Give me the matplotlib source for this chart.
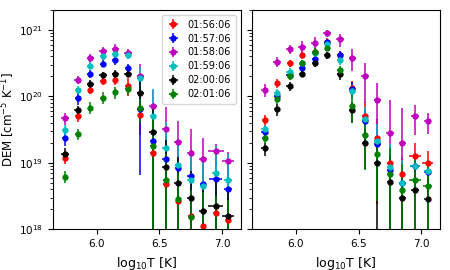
import matplotlib
matplotlib.use('Agg')
import matplotlib.pyplot as plt
import numpy as np

# log10 T bin centres (shared by both panels)
logt = [5.75, 5.85, 5.95, 6.05, 6.15, 6.25, 6.35, 6.45, 6.55, 6.65, 6.75, 6.85, 6.95, 7.05]

times = ['01:56:06', '01:57:06', '01:58:06', '01:59:06', '02:00:06', '02:01:06']
colors = ['r', 'b', 'm', 'c', 'k', 'g']

# left panel DEM values (rows follow times)
dem_left = [
    [1.18e19, 5.1e19, 1.26e20, 1.73e20, 1.74e20, 1.45e20, 5.2e19, 1.4e19, 4.75e18, 2.7e18, 1.6e18, 1.12e18, 1.78e18, 1.4e18],
    [2.35e19, 9.4e19, 2.2e20, 3.1e20, 3.5e20, 2.7e20, 6.5e19, 2.1e19, 1.14e19, 8.3e18, 6.3e18, 4.8e18, 5.8e18, 4.1e18],
    [4.7e19, 1.78e20, 3.76e20, 4.8e20, 5.1e20, 4.5e20, 2.05e20, 7.2e19, 3.2e19, 2.05e19, 1.42e19, 1.15e19, 1.5e19, 1.07e19],
    [3.1e19, 1.26e20, 2.9e20, 4.0e20, 4.4e20, 4.2e20, 1.86e20, 5.1e19, 1.66e19, 9.2e18, 5.6e18, 4.4e18, 7.1e18, 5.5e18],
    [1.38e19, 6.3e19, 1.55e20, 2.1e20, 2.2e20, 2.2e20, 1.12e20, 2.9e19, 8.8e18, 4.9e18, 3.0e18, 1.9e18, 2.2e18, 1.58e18],
    [6.2e18, 2.7e19, 6.8e19, 9.6e19, 1.15e20, 1.3e20, 6.6e19, 1.8e19, 5.5e18, 2.85e18, 1.55e18, 9e17, 8e17, 7e17],
]
# relative DEM errors, left panel
err_left = [
    [0.2, 0.2, 0.15, 0.15, 0.15, 0.3, 0.5, 1.2, 1.5, 1.5, 2.0, 2.0, 2.0, 2.0],
    [0.25, 0.2, 0.15, 0.12, 0.15, 0.15, 0.9, 1.5, 1.5, 1.5, 1.5, 1.5, 1.5, 1.5],
    [0.2, 0.15, 0.15, 0.15, 0.2, 0.15, 0.5, 0.75, 1.2, 1.05, 1.25, 1.05, 0.3, 0.35],
    [0.2, 0.15, 0.12, 0.12, 0.12, 0.12, 0.5, 1.5, 1.5, 1.5, 1.5, 1.5, 1.5, 1.5],
    [0.2, 0.15, 0.12, 0.12, 0.12, 0.12, 0.5, 1.2, 1.5, 1.5, 1.5, 1.5, 1.5, 1.5],
    [0.2, 0.18, 0.2, 0.2, 0.2, 0.2, 0.4, 1.5, 1.5, 1.5, 1.5, 3.0, 3.0, 3.0],
]
# temperature half-widths, left panel
xerr_left = [
    [0.02, 0.02, 0.02, 0.02, 0.02, 0.02, 0.02, 0.02, 0.02, 0.02, 0.02, 0.02, 0.025, 0.025],
    [0.025, 0.025, 0.025, 0.025, 0.025, 0.025, 0.025, 0.025, 0.025, 0.025, 0.025, 0.025, 0.05, 0.03],
    [0.03, 0.03, 0.03, 0.03, 0.03, 0.03, 0.03, 0.03, 0.03, 0.03, 0.03, 0.03, 0.063, 0.05],
    [0.025, 0.025, 0.025, 0.025, 0.025, 0.025, 0.025, 0.025, 0.025, 0.025, 0.025, 0.025, 0.03, 0.03],
    [0.03, 0.03, 0.03, 0.03, 0.03, 0.03, 0.03, 0.03, 0.03, 0.03, 0.03, 0.03, 0.06, 0.05],
    [0.02, 0.02, 0.02, 0.02, 0.02, 0.02, 0.02, 0.02, 0.02, 0.02, 0.02, 0.02, 0.02, 0.02],
]

# right panel
dem_right = [
    [4.4e19, 1.58e20, 3.2e20, 4.2e20, 4.6e20, 6.7e20, 4.2e20, 1.35e20, 5.1e19, 2.4e19, 1.0e19, 6.9e18, 1.28e19, 1.0e19],
    [2.95e19, 1.0e20, 2.1e20, 2.65e20, 3.6e20, 6.5e20, 4.2e20, 1.3e20, 4.3e19, 1.95e19, 7.8e18, 4.9e18, 9.0e18, 7.2e18],
    [1.26e20, 3.3e20, 5.2e20, 5.5e20, 6.3e20, 8.9e20, 7.2e20, 3.76e20, 2.0e20, 8.9e19, 2.8e19, 2.0e19, 5.0e19, 4.2e19],
    [3.25e19, 1.14e20, 2.35e20, 3.2e20, 4.5e20, 6.2e20, 3.5e20, 1.2e20, 4.6e19, 2.1e19, 8.8e18, 5.0e18, 9.1e18, 7.4e18],
    [1.65e19, 6.4e19, 1.44e20, 2.2e20, 3.2e20, 4.2e20, 2.2e20, 6.2e19, 2.0e19, 1.0e19, 5.2e18, 3.0e18, 3.9e18, 2.9e18],
    [2.4e19, 9.1e19, 2.03e20, 3.15e20, 4.7e20, 5.4e20, 2.5e20, 7.2e19, 2.6e19, 1.35e19, 6.8e18, 3.9e18, 5.5e18, 4.4e18],
]
err_right = [
    [0.2, 0.15, 0.12, 0.12, 0.12, 0.12, 0.15, 0.25, 0.6, 0.9, 0.8, 0.8, 0.55, 0.5],
    [0.2, 0.15, 0.12, 0.12, 0.12, 0.12, 0.15, 0.25, 0.5, 0.8, 1.0, 1.0, 0.5, 0.5],
    [0.22, 0.17, 0.15, 0.22, 0.25, 0.12, 0.22, 0.36, 0.6, 0.8, 2.2, 2.3, 0.48, 0.35],
    [0.15, 0.12, 0.12, 0.12, 0.12, 0.12, 0.15, 0.25, 0.5, 0.8, 1.2, 1.2, 0.5, 0.5],
    [0.22, 0.2, 0.15, 0.12, 0.12, 0.12, 0.2, 0.35, 0.6, 0.9, 1.5, 1.5, 1.5, 1.5],
    [0.2, 0.15, 0.12, 0.12, 0.12, 0.12, 0.15, 0.45, 0.7, 0.8, 1.5, 1.5, 1.5, 1.5],
]
xerr_right = [
    [0.02, 0.02, 0.02, 0.02, 0.02, 0.02, 0.02, 0.02, 0.02, 0.02, 0.02, 0.02, 0.045, 0.044],
    [0.025, 0.025, 0.025, 0.025, 0.025, 0.025, 0.025, 0.025, 0.025, 0.025, 0.025, 0.025, 0.04, 0.03],
    [0.03, 0.03, 0.03, 0.03, 0.03, 0.03, 0.03, 0.03, 0.03, 0.03, 0.03, 0.03, 0.03, 0.03],
    [0.025, 0.025, 0.025, 0.025, 0.025, 0.025, 0.025, 0.025, 0.025, 0.025, 0.025, 0.025, 0.04, 0.03],
    [0.025, 0.025, 0.025, 0.025, 0.025, 0.025, 0.025, 0.025, 0.025, 0.025, 0.025, 0.025, 0.032, 0.03],
    [0.02, 0.02, 0.02, 0.02, 0.02, 0.02, 0.02, 0.02, 0.02, 0.02, 0.02, 0.02, 0.05, 0.035],
]

fig = plt.figure(figsize=(4.5, 2.7), dpi=100)
ax1 = fig.add_axes([0.117, 0.151, 0.418, 0.812])
ax2 = fig.add_axes([0.56, 0.151, 0.418, 0.812], sharey=ax1)


def draw_panel(ax, dem, err, xerr, legend=False):
    for i in range(len(times)):
        y = np.array(dem[i])
        ax.errorbar(logt, y, yerr=y * np.array(err[i]), xerr=xerr[i], fmt='o',
                    color=colors[i], ms=3.5, elinewidth=1.1, capsize=0, label=times[i])
    ax.set_yscale('log')
    ax.set_xlim(5.65, 7.15)
    ax.set_ylim(1e18, 2e21)
    ax.set_xticks([6.0, 6.5, 7.0])
    ax.tick_params(labelsize=7.5)
    ax.set_xlabel(r'log$_{10}$T [K]', fontsize=9)
    if legend:
        ax.legend(loc=1, fontsize=7, handlelength=1.3, labelspacing=0.4, borderpad=0.5)


draw_panel(ax1, dem_left, err_left, xerr_left, legend=True)
ax1.set_ylabel(r'DEM [cm$^{-5}$ K$^{-1}$]', fontsize=8.5, labelpad=1)
draw_panel(ax2, dem_right, err_right, xerr_right)
plt.setp(ax2.get_yticklabels(), visible=False)

plt.savefig('out.png', dpi=100)
